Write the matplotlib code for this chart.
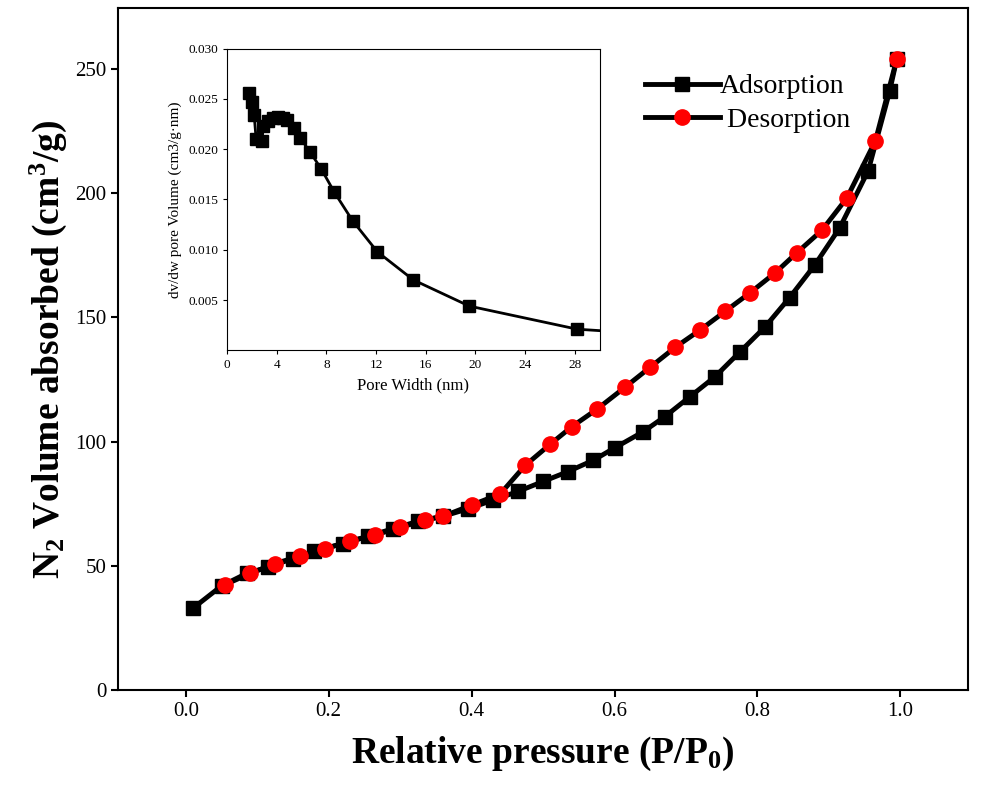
import matplotlib
matplotlib.use("Agg")
import matplotlib.pyplot as plt

plt.rcParams['font.family'] = ['Liberation Serif', 'DejaVu Serif']
plt.rcParams['mathtext.fontset'] = 'custom'
plt.rcParams['mathtext.rm'] = 'Liberation Serif:bold'
plt.rcParams['mathtext.bf'] = 'Liberation Serif:bold'
plt.rcParams['mathtext.default'] = 'rm'

ads_x = [0.01,0.05,0.085,0.115,0.15,0.18,0.22,0.255,0.29,0.325,0.36,0.395,0.43,0.465,0.5,0.535,0.57,0.6,0.64,0.67,0.705,0.74,0.775,0.81,0.845,0.88,0.915,0.955,0.985,0.995]
ads_y = [33,42,47,49.5,53,56,59,62,65,68,70,73,76.5,80,84,88,92.5,97.5,104,110,118,126,136,146,158,171,186,209,241,254]
des_x = [0.995,0.965,0.925,0.89,0.855,0.825,0.79,0.755,0.72,0.685,0.65,0.615,0.575,0.54,0.51,0.475,0.44,0.4,0.36,0.335,0.3,0.265,0.23,0.195,0.16,0.125,0.09,0.055]
des_y = [254,221,198,185,176,168,160,152.5,145,138,130,122,113,106,99,90.5,79,74.5,70,68.5,65.5,62.5,60,57,54,51,47,42.5]

pore_w = [1.76,2.0,2.18,2.34,2.8,2.93,3.3,3.7,4.1,4.5,4.8,5.4,5.9,6.7,7.6,8.65,10.1,12.1,15.0,19.5,28.2,32.0]
pore_v = [0.0256,0.0247,0.0234,0.0210,0.0208,0.0223,0.0228,0.0231,0.0232,0.0231,0.0229,0.0221,0.0211,0.0197,0.0180,0.0157,0.0129,0.0098,0.0070,0.0044,0.0021,0.0018]

fig = plt.figure(figsize=(9.83,7.98), dpi=100)
ax = fig.add_axes([0.12,0.135,0.865,0.855])
ax.plot(ads_x, ads_y, '-', color='black', lw=3.5, marker='s', ms=10, mfc='black', mec='black', label='Adsorption')
ax.plot(des_x, des_y, '-', color='black', lw=3.5, marker='o', ms=11, mfc='red', mec='red', label=' Desorption')
ax.set_xlim(-0.095,1.095)
ax.set_ylim(0,274.5)
ax.set_xticks([0.0,0.2,0.4,0.6,0.8,1.0])
ax.set_yticks([0,50,100,150,200,250])
ax.tick_params(labelsize=15, direction='out', length=5, width=1.5)
for s in ax.spines.values():
    s.set_linewidth(1.5)
ax.set_xlabel('Relative pressure (P/P$_0$)', fontsize=27, fontweight='bold', labelpad=10)
ax.set_ylabel('N$_2$ Volume absorbed (cm$^3$/g)', fontsize=27, fontweight='bold')
leg = ax.legend(loc='upper left', bbox_to_anchor=(0.59,0.94), frameon=False, fontsize=20,
                handlelength=2.7, handletextpad=0.0, labelspacing=0.3)

ins = fig.add_axes([0.231,0.561,0.379,0.378])
ins.plot(pore_w, pore_v, '-', color='black', lw=2, marker='s', ms=8, mfc='black', mec='black')
ins.set_xlim(0,30)
ins.set_ylim(0,0.030)
ins.set_xticks([0,4,8,12,16,20,24,28])
ins.set_yticks([0.005,0.010,0.015,0.020,0.025,0.030])
ins.set_yticklabels(['0.005','0.010','0.015','0.020','0.025','0.030'])
ins.tick_params(labelsize=9.5, direction='out', length=3)
ins.set_xlabel('Pore Width (nm)', fontsize=12)
ins.set_ylabel('dv/dw pore Volume (cm3/g·nm)', fontsize=11)

fig.savefig('out.png', dpi=100)
